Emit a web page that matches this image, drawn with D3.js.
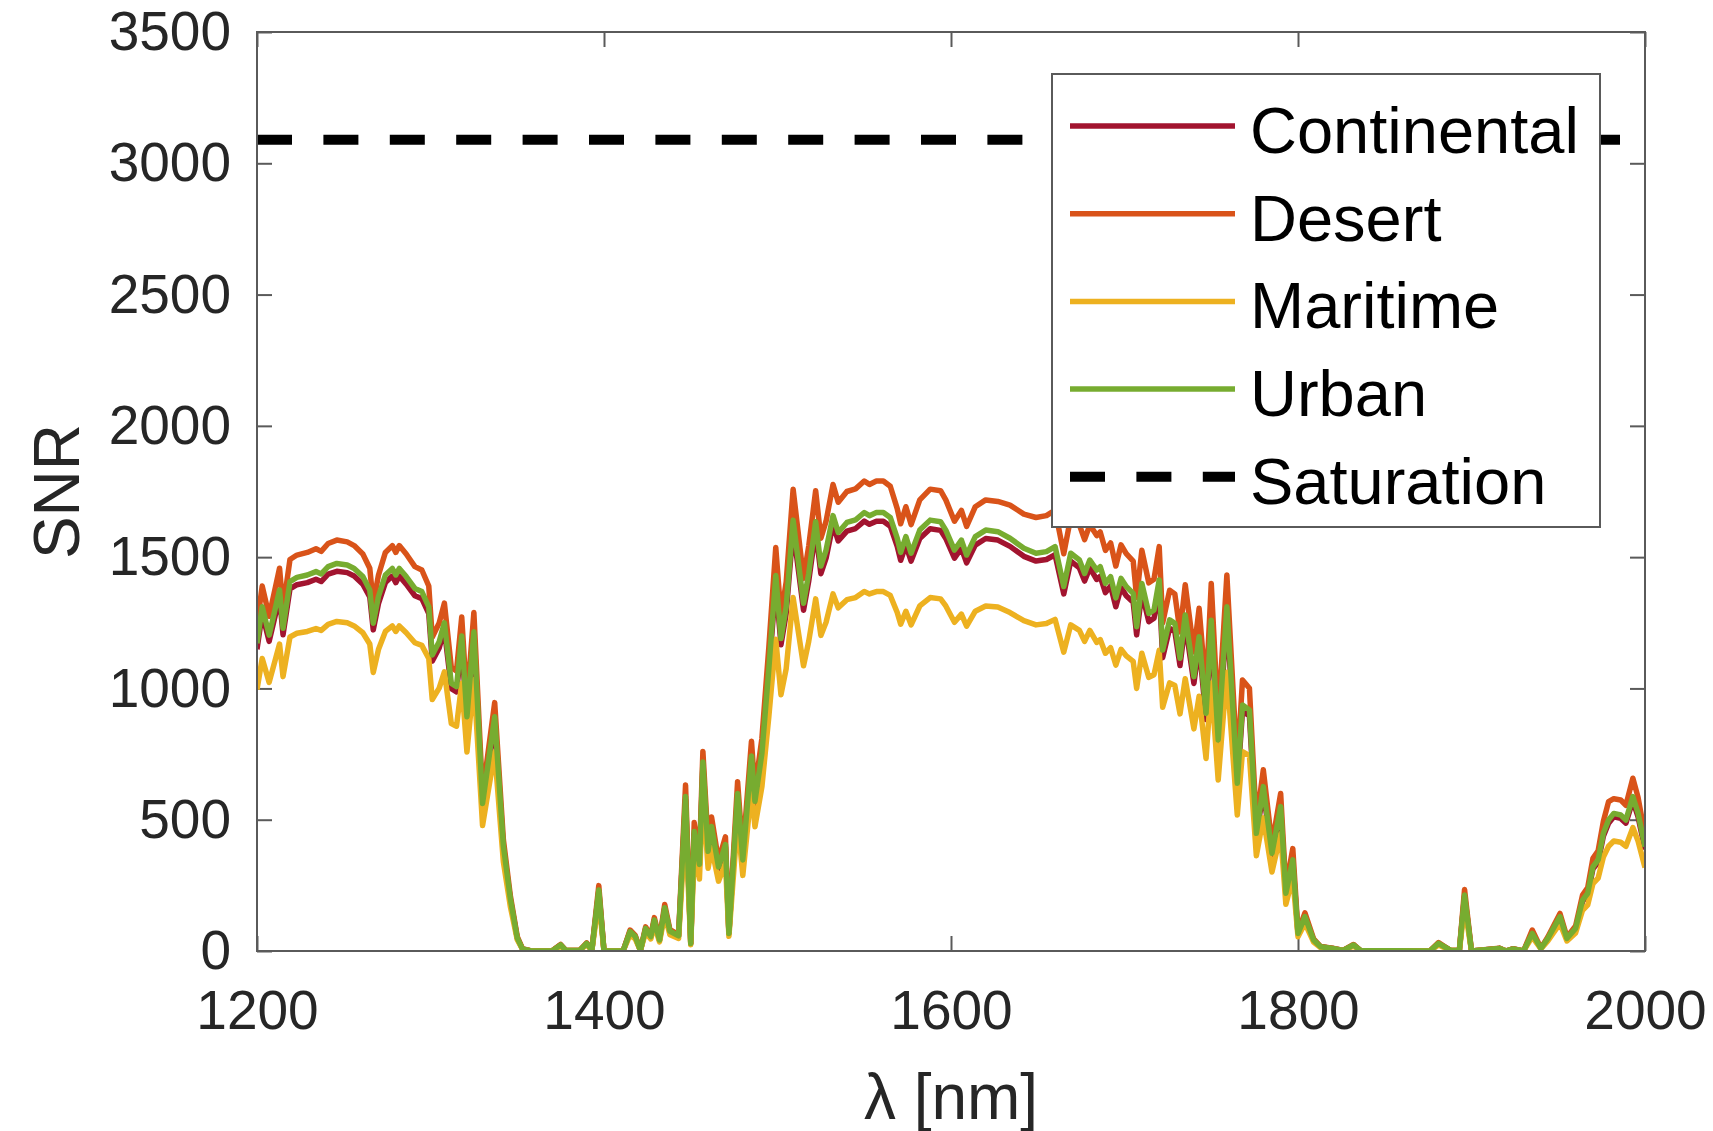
<!DOCTYPE html>
<meta charset="utf-8">
<head>
  <title>SNR vs wavelength</title>
</head>

<style>
body { margin: 0; background: #fff; }
svg text { font-family: "Liberation Sans", Arial, Helvetica, sans-serif; }
.axis path.domain { display: none; }
.axis line { stroke: #5a5a5a; stroke-width: 2; }
.axis text { fill: #262626; font-size: 55px; }
</style>

<body>
  <div id="content">
    <svg width="1713" height="1131"></svg>
  </div>

  <script src="https://cdnjs.cloudflare.com/ajax/libs/d3/7.8.5/d3.min.js"></script>

  <script>
// wavelength samples [nm]
var wavelength = [
  1200,1203,1207,1213,1215,1219,1223,1229,1234,1237,1241,1246,1252,1256,1261,1265,1267,1270,1274,1278,
  1280,1282,1286,1291,1295,1299,1301,1305,1308,1312,1315,1318,1321,1325,1330,1337,1342,1346,1350,1353,
  1358,1370,1375,1378,1386,1390,1393,1397,1400,1411,1415,1418,1421,1424,1427,1429,1432,1435,1438,1443,
  1447,1450,1452,1455,1457,1460,1462,1466,1470,1472,1477,1480,1485,1487,1491,1495,1499,1502,1505,1509,
  1515,1518,1522,1525,1528,1532,1535,1540,1545,1550,1553,1557,1561,1565,1569,1571,1574,1577,1582,1588,
  1594,1597,1602,1606,1609,1614,1620,1627,1634,1642,1649,1655,1660,1665,1669,1674,1677,1680,1684,1686,
  1689,1692,1695,1698,1701,1705,1707,1710,1714,1717,1720,1722,1726,1729,1732,1735,1740,1743,1747,1750,
  1754,1759,1765,1768,1772,1776,1780,1785,1790,1793,1797,1800,1804,1809,1813,1820,1826,1832,1836,1876,
  1881,1888,1893,1896,1900,1916,1920,1924,1930,1935,1940,1944,1951,1955,1960,1964,1967,1970,1973,1976,
  1979,1982,1986,1989,1993,1996,2000
]

var continental = [
  1149,1285,1179,1348,1204,1379,1395,1403,1416,1407,1435,1446,1441,1428,1397,1348,1223,1323,1403,1428,
  1403,1428,1397,1353,1342,1285,1104,1154,1225,999,987,1176,874,1192,551,874,392,196,49,8,
  0,0,23,2,2,28,3,227,0,0,73,54,2,84,54,116,41,162,74,57,
  576,28,446,323,705,372,465,314,397,66,588,340,728,559,738,1054,1401,1166,1285,1608,
  1298,1409,1602,1437,1496,1625,1562,1599,1609,1637,1625,1637,1637,1618,1541,1488,1546,1485,1571,1608,
  1602,1571,1496,1534,1478,1546,1571,1565,1541,1503,1485,1491,1509,1360,1485,1459,1409,1459,1415,1427,
  1365,1390,1311,1384,1353,1328,1204,1365,1254,1267,1378,1117,1229,1217,1087,1248,1019,1167,882,1229,
  784,1278,623,914,895,437,610,363,536,215,338,65,128,41,16,10,2,22,2,0,
  28,2,2,208,0,10,0,8,0,65,10,47,128,47,84,189,215,313,338,437,
  487,511,505,487,573,511,387
]

var desert = [
  1242,1390,1275,1458,1303,1491,1508,1518,1532,1522,1552,1565,1558,1544,1512,1458,1323,1431,1518,1544,
  1518,1544,1512,1464,1451,1390,1195,1249,1325,1080,1067,1272,946,1289,596,946,424,212,55,9,
  0,0,25,2,2,31,3,249,0,0,80,59,2,92,59,127,45,177,81,62,
  632,31,489,355,760,409,510,344,435,72,645,373,799,613,809,1156,1537,1276,1405,1759,
  1419,1542,1753,1572,1637,1777,1709,1750,1760,1790,1777,1790,1790,1770,1685,1627,1692,1624,1718,1759,
  1753,1718,1637,1678,1617,1692,1718,1712,1698,1664,1651,1658,1679,1513,1651,1623,1567,1623,1582,1596,
  1526,1554,1466,1547,1513,1485,1346,1526,1402,1416,1540,1249,1374,1360,1215,1395,1139,1305,986,1400,
  876,1432,697,1032,1001,488,690,405,600,240,390,73,145,46,17,11,2,25,2,0,
  32,2,2,234,0,11,0,9,0,80,11,53,143,53,95,213,242,353,382,493,
  569,580,575,555,658,585,440
]

var maritime = [
  996,1114,1023,1169,1045,1196,1210,1217,1228,1221,1244,1255,1250,1238,1212,1169,1061,1148,1217,1238,
  1217,1238,1212,1174,1164,1114,958,1001,1063,866,856,1020,758,1034,478,758,340,170,43,7,
  0,0,19,2,2,24,2,193,0,0,61,46,2,71,46,98,35,137,62,48,
  488,24,378,274,600,315,393,266,336,56,498,288,617,473,625,892,1187,976,1075,1346,
  1086,1179,1341,1202,1252,1360,1307,1338,1346,1369,1360,1369,1369,1354,1289,1245,1294,1242,1314,1346,
  1341,1314,1252,1283,1237,1294,1314,1310,1289,1258,1242,1247,1263,1138,1242,1221,1179,1221,1175,1186,
  1134,1155,1089,1149,1124,1103,1000,1134,1042,1052,1145,928,1021,1011,903,1037,846,970,733,1021,
  651,1062,518,759,744,363,507,301,446,178,281,54,106,34,13,8,2,19,2,0,
  23,2,2,170,0,8,0,6,0,54,8,38,105,38,69,155,176,257,278,358,
  399,419,414,399,470,419,318
]

var urban = [
  1172,1311,1203,1375,1229,1407,1423,1432,1445,1436,1464,1476,1470,1457,1426,1375,1248,1350,1432,1457,
  1432,1457,1426,1381,1369,1311,1127,1178,1250,1019,1007,1200,892,1216,562,892,400,200,50,8,
  0,0,23,2,2,29,3,232,0,0,74,55,2,86,55,118,42,165,75,58,
  588,29,455,330,720,380,474,320,405,67,600,347,743,570,753,1075,1430,1190,1311,1641,
  1324,1438,1635,1466,1527,1658,1594,1632,1642,1670,1658,1670,1670,1651,1572,1518,1578,1515,1603,1641,
  1635,1603,1527,1565,1508,1578,1603,1597,1572,1534,1515,1521,1540,1388,1515,1489,1438,1489,1451,1464,
  1400,1426,1345,1419,1388,1362,1235,1400,1286,1299,1413,1146,1261,1248,1115,1280,1045,1197,905,1260,
  804,1311,639,937,918,448,626,372,550,220,347,67,131,42,16,10,2,23,2,0,
  29,2,2,213,0,10,0,8,0,67,10,48,131,48,86,194,220,321,347,448,
  499,524,518,499,588,524,397
]

var saturation = 3090

var seriesNames = ['Continental', 'Desert', 'Maritime', 'Urban']
var seriesColors = ['#A2142F', '#D95319', '#EDB120', '#77AC30']
var seriesValues = [continental, desert, maritime, urban]

var xTicks = [1200, 1400, 1600, 1800, 2000]
var yTicks = [0, 500, 1000, 1500, 2000, 2500, 3000, 3500]

var plotLeft = 257, plotRight = 1645, plotTop = 32, plotBottom = 951

var svg = d3.select('svg')

var x = d3.scaleLinear().domain([1200, 2000]).range([plotLeft, plotRight])
var y = d3.scaleLinear().domain([0, 3500]).range([plotBottom, plotTop])

svg.append('rect')
  .attr('width', 1713).attr('height', 1131).attr('fill', '#fff')

svg.append('defs').append('clipPath').attr('id', 'plot')
  .append('rect')
  .attr('x', plotLeft).attr('y', plotTop)
  .attr('width', plotRight - plotLeft).attr('height', plotBottom - plotTop)

// ticks (inside, on all four sides)
svg.append('g').attr('class', 'axis')
  .attr('transform', 'translate(0,' + plotBottom + ')')
  .call(d3.axisBottom(x).tickValues(xTicks).tickSize(-15).tickSizeOuter(0)
    .tickPadding(39).tickFormat(d3.format('d')))

svg.append('g').attr('class', 'axis')
  .attr('transform', 'translate(0,' + plotTop + ')')
  .call(d3.axisTop(x).tickValues(xTicks).tickSize(-15).tickSizeOuter(0).tickFormat(''))

svg.append('g').attr('class', 'axis')
  .attr('transform', 'translate(' + plotLeft + ',0)')
  .call(d3.axisLeft(y).tickValues(yTicks).tickSize(-15).tickSizeOuter(0)
    .tickPadding(26).tickFormat(d3.format('d')))

svg.append('g').attr('class', 'axis')
  .attr('transform', 'translate(' + plotRight + ',0)')
  .call(d3.axisRight(y).tickValues(yTicks).tickSize(-15).tickSizeOuter(0).tickFormat(''))

// saturation level
svg.append('line')
  .attr('clip-path', 'url(#plot)')
  .attr('x1', x(1200)).attr('x2', x(2000))
  .attr('y1', y(saturation)).attr('y2', y(saturation))
  .attr('stroke', '#000')
  .attr('stroke-width', 10)
  .attr('stroke-dasharray', '35,31.4')

var line = d3.line()
  .x(function(d, i) { return x(wavelength[i]) })
  .y(function(d) { return y(d) })

svg.append('g').attr('clip-path', 'url(#plot)')
  .selectAll('path')
  .data(seriesValues)
  .enter()
  .append('path')
  .attr('d', line)
  .attr('fill', 'none')
  .attr('stroke', function(d, i) { return seriesColors[i] })
  .attr('stroke-width', 5.5)
  .attr('stroke-linejoin', 'round')

// box
svg.append('rect')
  .attr('x', plotLeft).attr('y', plotTop)
  .attr('width', plotRight - plotLeft).attr('height', plotBottom - plotTop)
  .attr('fill', 'none')
  .attr('stroke', '#5a5a5a')
  .attr('stroke-width', 2)

// axis labels
svg.append('text')
  .attr('x', (plotLeft + plotRight) / 2).attr('y', 1119)
  .attr('text-anchor', 'middle')
  .attr('font-size', 64)
  .attr('fill', '#262626')
  .text('λ [nm]')

svg.append('text')
  .attr('transform', 'translate(79,' + (plotTop + plotBottom) / 2 + ') rotate(-90)')
  .attr('text-anchor', 'middle')
  .attr('font-size', 64)
  .attr('fill', '#262626')
  .text('SNR')

// legend
var legend = svg.append('g')

legend.append('rect')
  .attr('x', 1052).attr('y', 74)
  .attr('width', 548).attr('height', 453)
  .attr('fill', '#fff')
  .attr('stroke', '#5a5a5a')
  .attr('stroke-width', 2)

var legendNames = seriesNames.concat(['Saturation'])
var legendColors = seriesColors.concat(['#000'])

var rows = legend.selectAll('g.row')
  .data(legendNames)
  .enter()
  .append('g')
  .attr('class', 'row')
  .attr('transform', function(d, i) { return 'translate(0,' + (126 + i * 87.7) + ')' })

rows.append('line')
  .attr('x1', 1070).attr('x2', 1235)
  .attr('stroke', function(d, i) { return legendColors[i] })
  .attr('stroke-width', function(d, i) { return i == 4 ? 10 : 5.5 })
  .attr('stroke-dasharray', function(d, i) { return i == 4 ? '35,31.4' : null })

rows.append('text')
  .attr('x', 1250).attr('y', 27)
  .attr('font-size', 65)
  .attr('fill', '#000')
  .text(function(d) { return d })
  </script>
</body>
</html>
